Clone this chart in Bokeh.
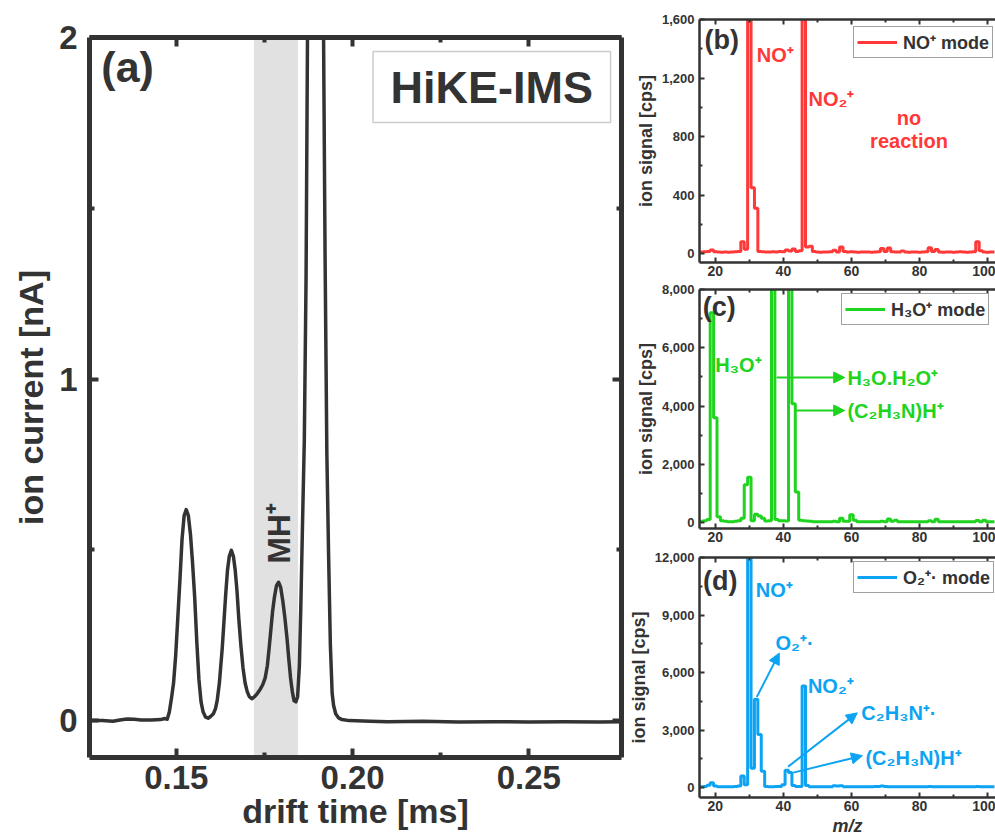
from bokeh.plotting import figure
from bokeh.layouts import row, column
from bokeh.models import (Range1d, LinearAxis, FixedTicker, NumeralTickFormatter, CustomLabelingPolicy,
                          BoxAnnotation, Label, Arrow, NormalHead, Legend, LegendItem)
from bokeh.embed import file_html
from bokeh.resources import INLINE

FONT = "Liberation Sans"
DARK = "#333333"
RED = "#FF3838"
GREEN = "#1ED41E"
BLUE = "#0CA4F2"

# ---------------- panel (a): HiKE-IMS spectrum ----------------
drift_time = [0.1254, 0.1290, 0.1320, 0.1340, 0.1360, 0.1380, 0.1400, 0.1430, 0.1455, 0.1467,
              0.1474, 0.1480, 0.1486, 0.1492, 0.1498, 0.1504, 0.1510, 0.1516, 0.1522, 0.1528,
              0.1534, 0.1540, 0.1546, 0.1552, 0.1558, 0.1564, 0.1570, 0.1576, 0.1583, 0.1590,
              0.1597, 0.1605, 0.1611, 0.1616, 0.1622, 0.1626, 0.1630, 0.1635, 0.1640, 0.1645,
              0.1650, 0.1656, 0.1662, 0.1667, 0.1672, 0.1677, 0.1683, 0.1689, 0.1695, 0.1701,
              0.1707, 0.1714, 0.1722, 0.1730, 0.1738, 0.1745, 0.1752, 0.1758, 0.1763, 0.1768,
              0.1773, 0.1778, 0.1784, 0.1790, 0.1796, 0.1802, 0.1808, 0.1814, 0.1819, 0.1824,
              0.1829, 0.1834, 0.1839, 0.1844, 0.1849, 0.1853, 0.1858, 0.1863, 0.1868, 0.1872,
              0.1877, 0.1882, 0.1887, 0.1895, 0.1903, 0.1910, 0.1917, 0.1922, 0.1927, 0.1932,
              0.1937, 0.1942, 0.1946, 0.1952, 0.1960, 0.1970, 0.1990, 0.2050, 0.2100, 0.2200,
              0.2300, 0.2400, 0.2500, 0.2600, 0.2700, 0.2765]
ion_current = [0.000, 0.000, -0.002, 0.002, 0.005, 0.004, 0.002, 0.002, 0.003, 0.006,
               0.004, 0.025, 0.065, 0.110, 0.190, 0.300, 0.410, 0.530, 0.600, 0.618,
               0.600, 0.545, 0.460, 0.360, 0.230, 0.120, 0.055, 0.025, 0.010, 0.007,
               0.012, 0.020, 0.035, 0.060, 0.110, 0.160, 0.210, 0.290, 0.370, 0.440,
               0.480, 0.499, 0.480, 0.440, 0.380, 0.300, 0.220, 0.155, 0.110, 0.085,
               0.070, 0.064, 0.070, 0.080, 0.092, 0.105, 0.125, 0.160, 0.210, 0.265,
               0.320, 0.360, 0.395, 0.405, 0.390, 0.350, 0.300, 0.240, 0.180, 0.125,
               0.085, 0.058, 0.055, 0.070, 0.160, 0.330, 0.580, 0.820, 1.300, 2.000,
               2.900, 3.900, 4.700, 5.100, 4.600, 3.600, 2.100, 1.350, 0.780, 0.480,
               0.220, 0.080, 0.045, 0.020, 0.008, 0.003, 0.000, -0.002, -0.003, -0.002,
               -0.004, -0.003, -0.004, -0.003, -0.004, -0.003]
mh_band = (0.1720, 0.1845)
a_xticks = [0.15, 0.20, 0.25]
a_xminor = [0.175, 0.225]
a_yticks = [0, 1, 2]
a_yminor = [0.5, 1.5]

# ---------------- panels (b)-(d): mass spectra ----------------
mz = list(range(15, 103))
no_mode = [8, 10, 12, 14, 25, 12, 10, 9, 10, 9,
           10, 12, 14, 80, 30, 2600, 450, 310, 15, 12,
           10, 10, 12, 10, 14, 12, 25, 18, 32, 15,
           20, 2000, 45, 50, 15, 10, 9, 10, 10, 12,
           22, 10, 45, 15, 10, 12, 10, 9, 10, 10,
           10, 9, 10, 12, 35, 15, 38, 12, 10, 10,
           18, 10, 9, 10, 10, 9, 10, 12, 40, 15,
           28, 10, 9, 10, 10, 9, 10, 12, 10, 9,
           10, 12, 80, 20, 10, 9, 10, 10]
h3o_mode = [30, 40, 60, 100, 7200, 3600, 200, 60, 40, 30,
            30, 40, 60, 150, 1300, 1550, 60, 280, 220, 150,
            50, 60, 9000, 100, 60, 60, 50, 9500, 4080, 1050,
            80, 60, 50, 40, 30, 30, 30, 30, 30, 30,
            40, 30, 150, 40, 40, 270, 80, 30, 30, 30,
            30, 30, 30, 30, 40, 30, 120, 40, 80, 30,
            30, 30, 30, 30, 30, 30, 30, 30, 60, 30,
            110, 30, 30, 30, 30, 30, 30, 30, 30, 30,
            30, 30, 70, 30, 80, 30, 30, 30]
o2_mode = [40, 40, 50, 120, 250, 80, 40, 40, 40, 40,
           40, 50, 80, 600, 150, 13000, 1000, 4600, 2760, 850,
           60, 40, 40, 50, 60, 150, 900, 780, 100, 60,
           60, 5300, 100, 40, 40, 40, 40, 40, 40, 40,
           90, 80, 90, 40, 40, 40, 40, 40, 40, 40,
           40, 40, 60, 50, 80, 60, 40, 40, 40, 40,
           40, 40, 40, 40, 40, 40, 40, 40, 60, 40,
           40, 40, 40, 40, 40, 40, 40, 40, 40, 40,
           40, 40, 60, 40, 40, 40, 40, 40]
mz_ticks = [20, 40, 60, 80, 100]
mz_minor = [30, 50, 70, 90]
b_yticks, b_yminor = [0, 400, 800, 1200, 1600], [200, 600, 1000, 1400]
c_yticks, c_yminor = [0, 2000, 4000, 6000, 8000], [1000, 3000, 5000, 7000]
d_yticks, d_yminor = [0, 3000, 6000, 9000, 12000], [1500, 4500, 7500, 10500]


def style_axis(ax, line_w, tick_in, minor_in, tick_w, lab_size, standoff, show=True):
    ax.axis_line_color = DARK
    ax.axis_line_width = line_w
    ax.major_tick_line_color = DARK
    ax.minor_tick_line_color = DARK
    ax.major_tick_line_width = tick_w
    ax.minor_tick_line_width = tick_w
    ax.major_tick_in = tick_in
    ax.major_tick_out = 0
    ax.minor_tick_in = minor_in
    ax.minor_tick_out = 0
    ax.major_label_text_font = FONT
    ax.major_label_text_font_style = "bold"
    ax.major_label_text_color = DARK
    ax.major_label_text_font_size = lab_size
    ax.major_label_standoff = standoff
    ax.axis_label_text_font = FONT
    ax.axis_label_text_font_style = "bold"
    ax.axis_label_text_color = DARK
    if not show:
        ax.major_label_policy = CustomLabelingPolicy(code="return []")
        ax.major_label_text_font_size = "1px"
        ax.major_label_standoff = 0


# ---------- figure (a) ----------
pa = figure(width=625, height=838, x_range=Range1d(0.12535, 0.2763), y_range=Range1d(-0.108, 2.0),
            output_backend="svg", toolbar_location=None,
            min_border_left=89, min_border_right=3, min_border_top=37, min_border_bottom=81)
pa.grid.visible = False
pa.outline_line_color = None
pa.add_layout(LinearAxis(), "above")
pa.add_layout(LinearAxis(), "right")
for ax in pa.xaxis:
    ax.ticker = FixedTicker(ticks=a_xticks, minor_ticks=a_xminor)
    ax.formatter = NumeralTickFormatter(format="0.00")
    style_axis(ax, 5, 9, 5, 4, "33px", 8, show=(ax in pa.below))
for ax in pa.yaxis:
    ax.ticker = FixedTicker(ticks=a_yticks, minor_ticks=a_yminor)
    style_axis(ax, 5, 9, 5, 4, "33px", 12, show=(ax in pa.left))
pa.below[0].axis_label = "drift time [ms]"
pa.below[0].axis_label_text_font_size = "34px"
pa.below[0].axis_label_standoff = 0
pa.left[0].axis_label = "ion current [nA]"
pa.left[0].axis_label_text_font_size = "34px"
pa.left[0].axis_label_standoff = 6

pa.add_layout(BoxAnnotation(left=mh_band[0], right=mh_band[1], fill_color="#e1e1e1",
                            fill_alpha=1.0, line_color=None, level="underlay"))
pa.line(x=drift_time, y=ion_current, line_color=DARK, line_width=3.5, line_join="round")
pa.add_layout(Label(x=0.1287, y=1.985, text="(a)", text_font=FONT, text_font_style="bold",
                    text_font_size="43px", text_color=DARK, text_baseline="top", text_align="left"))
pa.add_layout(BoxAnnotation(left=0.2058, right=0.2732, top=1.959, bottom=1.751, fill_color="white",
                            fill_alpha=1.0, line_color="#555555", line_width=1.5))
pa.add_layout(Label(x=0.2395, y=1.853, text="HiKE-IMS", text_font=FONT, text_font_style="bold",
                    text_font_size="45px", text_color=DARK, text_baseline="middle", text_align="center"))
pa.add_layout(Label(x=0.1790, y=0.548, text="MH⁺", angle=90, angle_units="deg", text_font=FONT,
                    text_font_style="bold", text_font_size="32px", text_color=DARK,
                    text_baseline="middle", text_align="center"))


# ---------- figures (b)-(d) ----------
def spec_fig(height, btop, bbot, yr, yt, ym, values, color, legend_text, legend_loc):
    p = figure(width=370, height=height, x_range=Range1d(15.36, 102.3), y_range=Range1d(*yr),
               output_backend="svg", toolbar_location=None,
               min_border_left=70, min_border_right=0, min_border_top=btop, min_border_bottom=bbot)
    p.grid.visible = False
    p.outline_line_color = None
    p.add_layout(LinearAxis(), "above")
    for ax in p.xaxis:
        ax.ticker = FixedTicker(ticks=mz_ticks, minor_ticks=mz_minor)
        style_axis(ax, 2.5, 5, 3, 2, "14px", 3, show=(ax in p.below))
    p.yaxis.ticker = FixedTicker(ticks=yt, minor_ticks=ym)
    p.yaxis.formatter = NumeralTickFormatter(format="0,0")
    style_axis(p.left[0], 2.5, 5, 3, 2, "13px", 5)
    p.left[0].axis_label = "ion signal [cps]"
    p.left[0].axis_label_text_font_size = "18px"
    p.left[0].axis_label_standoff = 3
    r = p.step(x=mz, y=values, mode="center", line_color=color, line_width=3)
    leg = Legend(items=[LegendItem(label=legend_text, renderers=[r])], location=legend_loc,
                 label_text_font=FONT, label_text_font_style="bold", label_text_font_size="18px",
                 label_text_color=DARK, glyph_width=40, glyph_height=18, label_standoff=6,
                 padding=3, margin=0, spacing=0, border_line_color="#444444",
                 border_line_width=1.5, background_fill_alpha=1.0)
    p.add_layout(leg)
    return p


def txt(p, x, y, s, color, size="20px", align="left", baseline="middle"):
    p.add_layout(Label(x=x, y=y, text=s, text_font=FONT, text_font_style="bold", text_font_size=size,
                       text_color=color, text_align=align, text_baseline=baseline))


def arrow(p, x0, y0, x1, y1, color):
    p.add_layout(Arrow(end=NormalHead(size=11, fill_color=color, line_color=color),
                       x_start=x0, y_start=y0, x_end=x1, y_end=y1, line_color=color, line_width=2))


pb = spec_fig(283, 19, 21, (-61, 1600), b_yticks, b_yminor, no_mode, RED, "NO⁺ mode", (154, 204))
txt(pb, 16.8, 1560, "(b)", DARK, "27px", baseline="top")
txt(pb, 32.2, 1360, "NO⁺", RED)
txt(pb, 47.4, 1060, "NO₂⁺", RED)
txt(pb, 76.9, 930, "no", RED, align="center")
txt(pb, 76.9, 770, "reaction", RED, align="center")

pc = spec_fig(267, 6, 22, (-206, 8000), c_yticks, c_yminor, h3o_mode, GREEN, "H₃O⁺ mode", (142, 203))
txt(pc, 16.3, 7930, "(c)", DARK, "27px", baseline="top")
txt(pc, 20.0, 5424, "H₃O⁺", GREEN)
arrow(pc, 38.0, 4978, 58.0, 4978, GREEN)
txt(pc, 58.8, 4978, "H₃O.H₂O⁺", GREEN)
arrow(pc, 43.5, 3845, 58.0, 3845, GREEN)
txt(pc, 58.8, 3845, "(C₂H₃N)H⁺", GREEN)

pd = spec_fig(288, 7, 40, (-520, 12000), d_yticks, d_yminor, o2_mode, BLUE, "O₂⁺· mode", (154, 204))
pd.below[0].axis_label = "m/z"
pd.below[0].axis_label_text_font_size = "18px"
pd.below[0].axis_label_text_font_style = "bold italic"
pd.below[0].axis_label_standoff = 2
txt(pd, 16.4, 11533, "(d)", DARK, "27px", baseline="top")
txt(pd, 31.9, 10286, "NO⁺", BLUE)
txt(pd, 37.7, 7533, "O₂⁺·", BLUE)
arrow(pd, 32.2, 4727, 38.8, 7013, BLUE)
txt(pd, 47.2, 5299, "NO₂⁺", BLUE)
txt(pd, 62.9, 3896, "C₂H₃N⁺·", BLUE)
arrow(pd, 41.4, 1091, 61.7, 3896, BLUE)
txt(pd, 64.1, 1558, "(C₂H₃N)H⁺", BLUE)
arrow(pd, 42.9, 779, 63.2, 1662, BLUE)

layout = row(pa, column(pb, pc, pd))
open("out.html", "w").write(file_html(layout, INLINE))
